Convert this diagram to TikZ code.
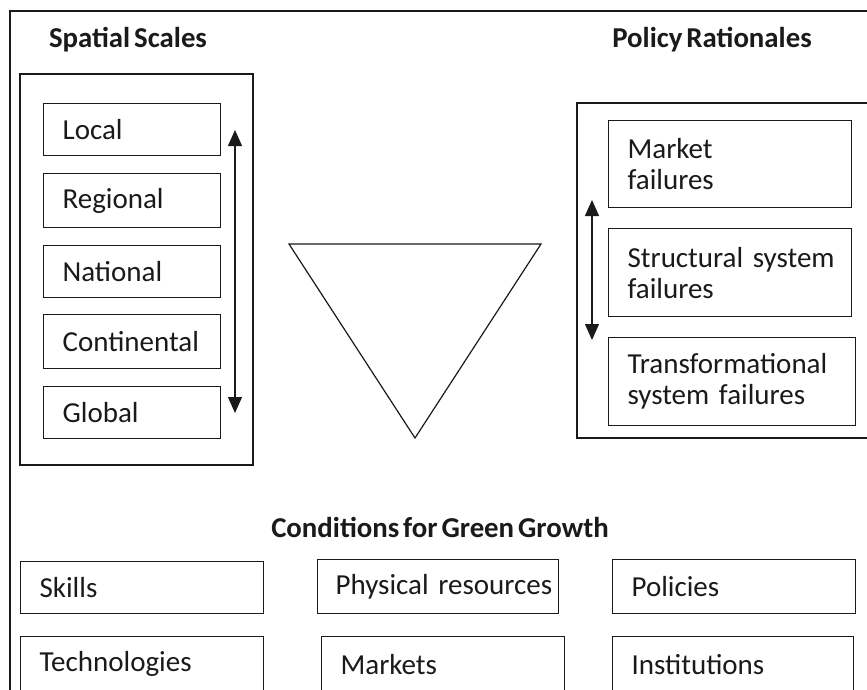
\documentclass[tikz,border=0pt]{standalone}
\usepackage{fontspec}
\setmainfont{Carlito}[WordSpace=0.6]
\usetikzlibrary{arrows.meta}
\definecolor{ink}{HTML}{1A1A1A}
\begin{document}
\begin{tikzpicture}[x=1pt,y=-1pt,
  lw/.style={line width=1.2pt, draw=ink},
  sbox/.style={lw, anchor=north west, inner xsep=19pt, inner ysep=0pt, align=left,
    font=\fontsize{29}{31}\selectfont, text=ink},
  ttl/.style={anchor=base, font=\fontsize{28.8}{31}\selectfont\bfseries, text=ink, inner sep=0pt},
  dbl/.style={lw, {Triangle[length=16pt,width=14pt]}-{Triangle[length=16pt,width=14pt]}}
]
\useasboundingbox (0,0) rectangle (867,690);
\clip (0,0) rectangle (867,690);
\fill[white] (0,0) rectangle (867,690);
% outer frame (cut off at right and bottom)
\draw[lw] (10,11) rectangle (900,730);
% titles
\node[ttl] (tss) at (128,48) {Spatial Scales};
\node[ttl] (tpr) at (712,48) {Policy Rationales};
\node[ttl] (tcg) at (440,537) {Conditions for Green Growth};
% spatial scales
\draw[lw] (20,74) rectangle (253,465);
\node[sbox, text width=139pt, minimum height=52pt] (local) at (43,103) {\mbox{Local}};
\node[sbox, text width=139pt, minimum height=54pt] (regional) at (43,173) {\mbox{Regional}};
\node[sbox, text width=139pt, minimum height=52pt] (national) at (43,245) {\mbox{National}};
\node[sbox, text width=139pt, minimum height=54pt] (continental) at (43,314) {\mbox{Continental}};
\node[sbox, text width=139pt, minimum height=52pt] (global) at (43,386) {\mbox{Global}};
\coordinate (la1) at (235,130);
\coordinate (la2) at (235,413);
\draw[dbl] (la1) -- (la2);
% triangle
\coordinate (t1) at (289,244);
\coordinate (t2) at (541,244);
\coordinate (t3) at (415,438);
\draw[lw, line join=miter] (t1) -- (t2) -- (t3) -- cycle;
% policy rationales
\draw[lw] (577,103) rectangle (900,438);
\node[sbox, text width=205pt, minimum height=87pt] (market) at (608,120) {\mbox{Market}\\\mbox{failures}};
\node[sbox, text width=205pt, minimum height=88pt] (structural) at (608,228) {\mbox{Structural system}\\\mbox{failures}};
\node[sbox, text width=209pt, minimum height=88pt] (transf) at (608,337) {\mbox{Transformational}\\\mbox{system failures}};
\coordinate (ra1) at (592,200);
\coordinate (ra2) at (592,340);
\draw[dbl] (ra1) -- (ra2);
% conditions
\node[sbox, text width=205pt, minimum height=52pt] (skills) at (20,561) {\mbox{Skills}};
\node[sbox, inner xsep=18pt, text width=205pt, minimum height=54pt] (physical) at (317,559) {\mbox{Physical resources}};
\node[sbox, text width=205pt, minimum height=54pt] (policies) at (612,559) {\mbox{Policies}};
\node[sbox, text width=205pt, minimum height=55pt] (techn) at (20,636) {\mbox{Technologies}};
\node[sbox, text width=205pt, minimum height=55pt] (markets) at (321,636) {\mbox{Markets}};
\node[sbox, text width=203pt, minimum height=55pt] (instit) at (612,636) {\mbox{Institutions}};
\end{tikzpicture}
\end{document}
